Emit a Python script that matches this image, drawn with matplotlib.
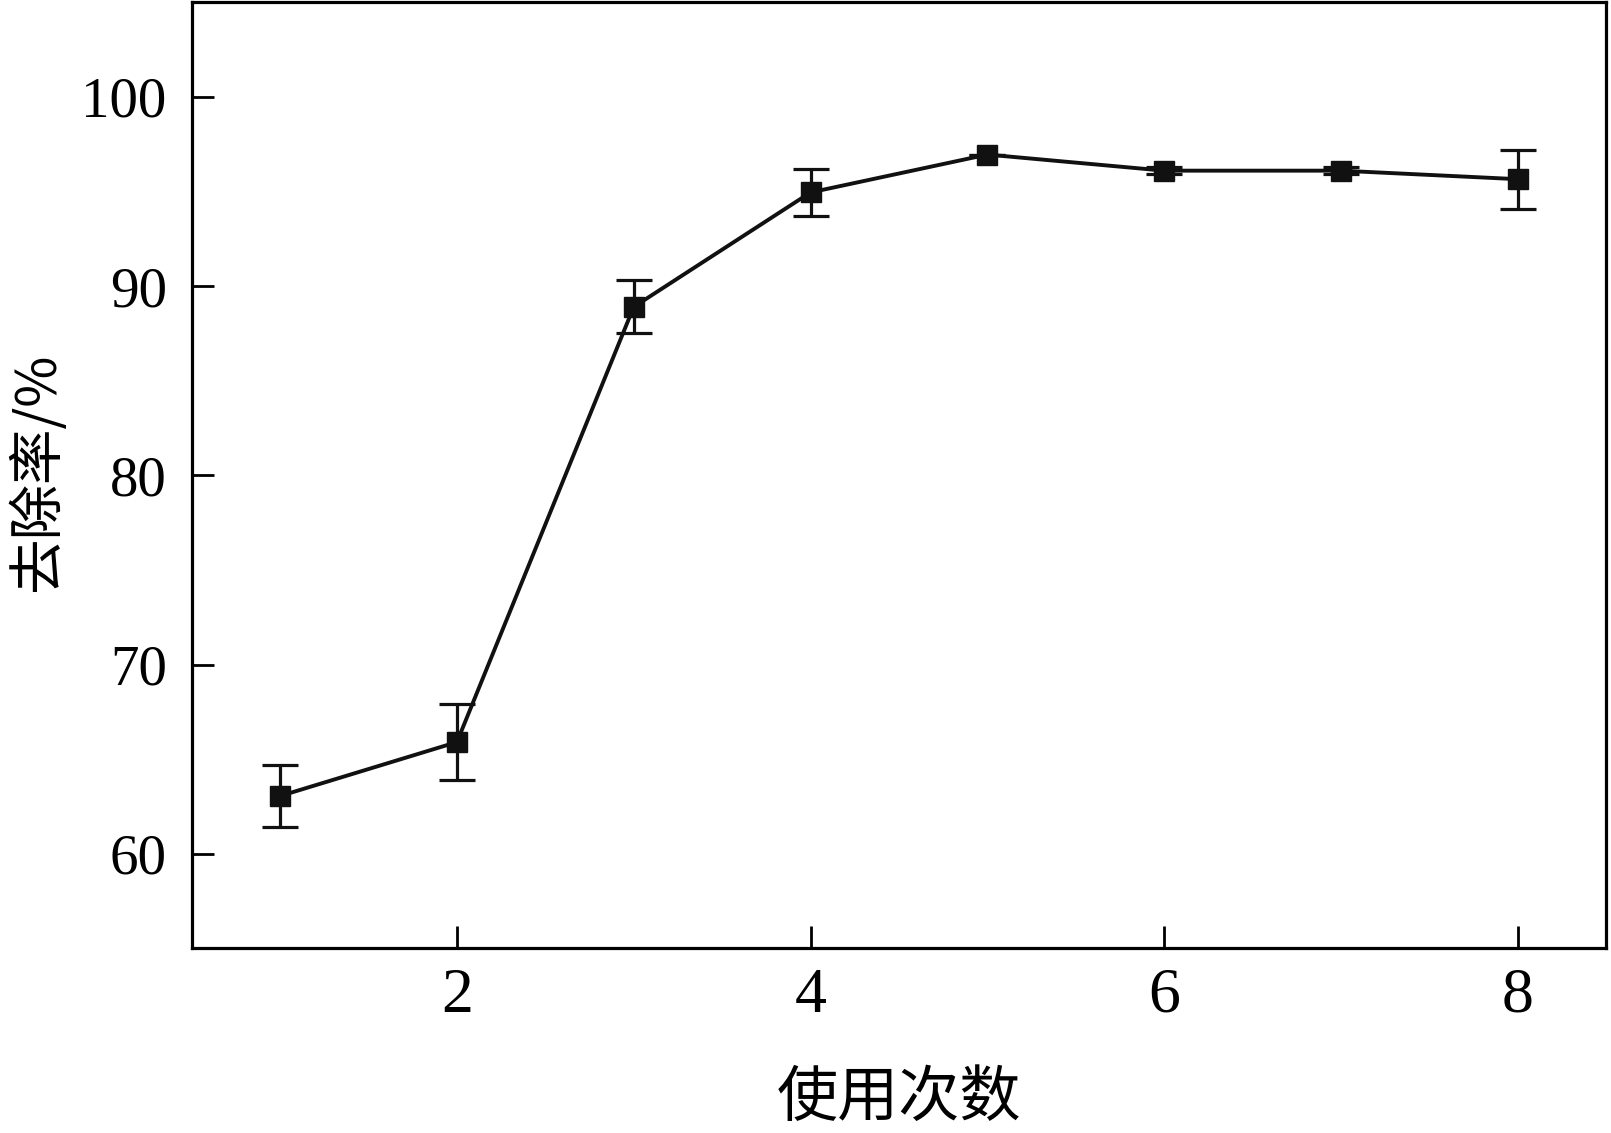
import matplotlib
matplotlib.use("Agg")
import matplotlib.pyplot as plt

# 使用次数 vs 去除率
cycles = [1, 2, 3, 4, 5, 6, 7, 8]
removal = [63.05, 65.9, 88.9, 94.95, 96.95, 96.1, 96.1, 95.65]
err = [1.65, 2.0, 1.4, 1.25, 0.0, 0.2, 0.2, 1.55]

xticks = [2, 4, 6, 8]
yticks = [60, 70, 80, 90, 100]

plt.rcParams['font.family'] = ['Liberation Serif', 'Noto Sans CJK SC']

fig = plt.figure(figsize=(16.11, 11.33), dpi=100)
ax = fig.add_axes([0.119, 0.163, 0.878, 0.835])

ax.errorbar(cycles, removal, yerr=err, color='#111111', linewidth=2.8,
            marker='s', markersize=15, elinewidth=2.3, capsize=13, capthick=2.3)

ax.set_xlim(0.5, 8.5)
ax.set_ylim(55, 105)
ax.set_xticks(xticks)
ax.set_yticks(yticks)

for s in ax.spines.values():
    s.set_linewidth(2.3)
ax.tick_params(direction='in', length=16, width=2, top=False, right=False)
ax.tick_params(axis='y', labelsize=41, pad=18)
ax.tick_params(axis='x', labelsize=46, pad=14)

fig.text(0.024, 0.583, '去除率/%', rotation=90, ha='center', va='center',
         fontsize=40, family=['Noto Sans CJK SC', 'Liberation Serif'])
fig.text(0.558, 0.03, '使用次数', ha='center', va='center',
         fontsize=44, family=['Noto Sans CJK SC'])

fig.savefig('out.png', dpi=100)
